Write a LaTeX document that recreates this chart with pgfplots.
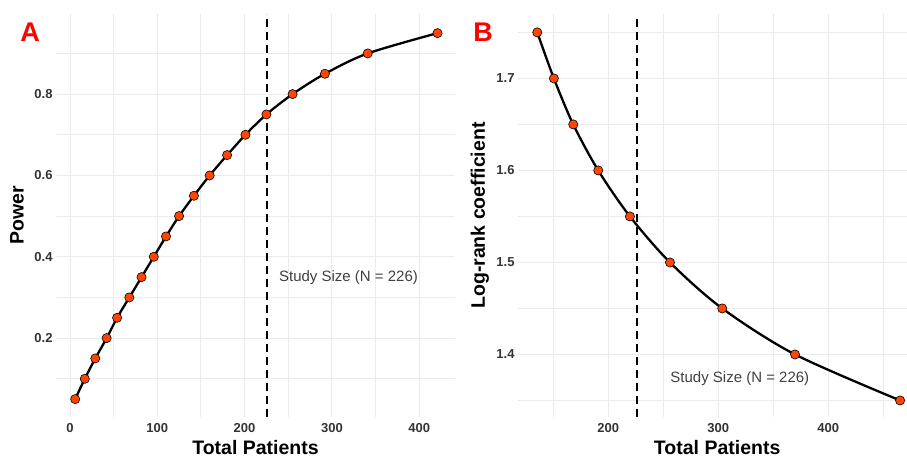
\documentclass[border=0pt]{standalone}
\usepackage{pgfplots}
\pgfplotsset{compat=1.18}
\usepackage{fontspec}
\setmainfont{Liberation Sans}

\definecolor{gridgrey}{HTML}{EBEBEB}
\definecolor{pointfill}{HTML}{FF4500}
\definecolor{ticktext}{HTML}{333333}
\definecolor{notetext}{HTML}{404040}

\pgfplotsset{
  panel/.style={
    scale only axis,
    height=403bp,
    axis line style={draw=none},
    major tick length=0pt,
    minor tick length=0pt,
    grid=both,
    major grid style={gridgrey, line width=0.9bp},
    minor grid style={gridgrey, line width=0.9bp},
    tick label style={font=\bfseries\fontsize{13bp}{15bp}\selectfont, text=ticktext},
    xticklabel style={yshift=-3bp},
    /pgf/number format/assume math mode=true,
    label style={font=\bfseries\fontsize{19.5bp}{22bp}\selectfont, text=black, inner sep=0pt},
  },
  curve/.style={black, line width=2.3bp, smooth, tension=0.5,
    mark=*, mark size=4.6bp,
    mark options={fill=pointfill, draw=black, line width=0.6bp}},
  studyline/.style={black, line width=1.6bp, dash pattern=on 8bp off 5bp},
}
\tikzset{
  note/.style={font=\fontsize{15bp}{17bp}\selectfont, text=notetext, anchor=center},
  panelletter/.style={font=\bfseries\fontsize{27bp}{30bp}\selectfont, text=red},
}

\begin{document}
\begin{tikzpicture}
\path[use as bounding box] (0,0) rectangle (907bp,459bp);

% Panel A: power against total sample size
\begin{axis}[panel,
  at={(56bp,42bp)}, anchor=south west, width=399bp,
  xmin=-16, xmax=441, ymin=0.006, ymax=0.997,
  xtick={0,100,200,300,400}, minor xtick={50,150,250,350},
  ytick={0.2,0.4,0.6,0.8}, minor ytick={0.1,0.3,0.5,0.7,0.9},
  yticklabel style={/pgf/number format/.cd, fixed, precision=1},
  xlabel={Total Patients}, ylabel={Power},
  xlabel style={at={(axis description cs:0.5,-0.075)}, anchor=center},
  ylabel style={at={(axis description cs:-0.0977,0.5)}, anchor=center},
]
\addplot[studyline] coordinates {(226,0.006) (226,0.997)};
\addplot[curve] coordinates {
  (6,0.05) (17,0.10) (29,0.15) (42,0.20) (54,0.25) (68,0.30) (82,0.35)
  (96,0.40) (110,0.45) (125,0.50) (142,0.55) (160,0.60) (180,0.65)
  (201,0.70) (225,0.75) (255,0.80) (292,0.85) (341,0.90) (421,0.95)};
\node[note] at (axis cs:319,0.348) {Study Size (N = 226)};
\end{axis}

% Panel B: detectable log-rank coefficient against total sample size
\begin{axis}[panel,
  at={(518bp,42bp)}, anchor=south west, width=389bp,
  xmin=118, xmax=471.5, ymin=1.332, ymax=1.77,
  xtick={200,300,400}, minor xtick={150,250,350,450},
  ytick={1.4,1.5,1.6,1.7}, minor ytick={1.35,1.45,1.55,1.65,1.75},
  yticklabel style={/pgf/number format/.cd, fixed, precision=1},
  xlabel={Total Patients}, ylabel={Log-rank coefficient},
  xlabel style={at={(axis description cs:0.512,-0.075)}, anchor=center},
  ylabel style={at={(axis description cs:-0.0977,0.5)}, anchor=center},
]
\addplot[studyline] coordinates {(226,1.332) (226,1.77)};
\addplot[curve] coordinates {
  (135.5,1.75) (150.6,1.70) (168.2,1.65) (190.9,1.60) (219.7,1.55)
  (256.1,1.50) (303.6,1.45) (369.7,1.40) (465.2,1.35)};
\node[note] at (axis cs:319.6,1.374) {Study Size (N = 226)};
\end{axis}

\node[panelletter] at (30bp,427bp) {A};
\node[panelletter] at (483bp,427bp) {B};
\end{tikzpicture}
\end{document}
